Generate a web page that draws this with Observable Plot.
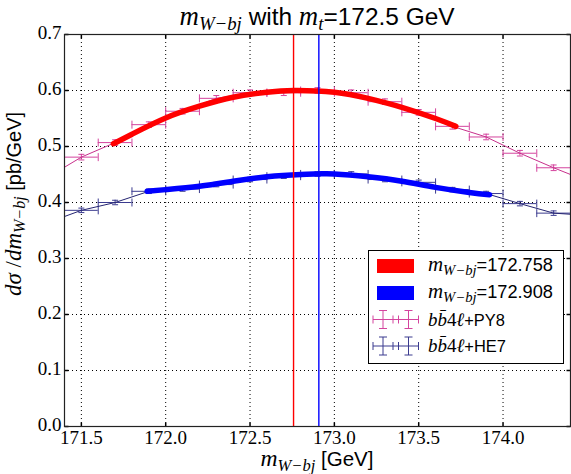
<!DOCTYPE html>
<html><head><meta charset="utf-8">
<script src="https://cdn.jsdelivr.net/npm/d3@7"></script>
<script src="https://cdn.jsdelivr.net/npm/@observablehq/plot@0.6"></script>
<style>
html,body{margin:0;padding:0;background:#fff;}
#chart{position:relative;width:571px;height:474px;}
#chart svg text{font-family:"Liberation Serif","Times New Roman","DejaVu Serif",serif;}
</style></head><body><div id="chart"></div>
<script>
// ---- data ----
const xDomain = [171.4, 174.4];
const yDomain = [0, 0.7];
const xTicks = [171.5, 172.0, 172.5, 173.0, 173.5, 174.0];
const yTicks = [0.0, 0.1, 0.2, 0.3, 0.4, 0.5, 0.6, 0.7];
const binLow  = [171.4,171.6,171.8,172.0,172.2,172.4,172.6,172.8,173.0,173.2,173.4,173.6,173.8,174.0,174.2];
const binHigh = [171.6,171.8,172.0,172.2,172.4,172.6,172.8,173.0,173.2,173.4,173.6,173.8,174.0,174.2,174.4];
const py8Values = [0.481,0.507,0.539,0.563,0.586,0.596,0.596,0.600,0.596,0.580,0.561,0.536,0.517,0.488,0.462];
const py8Errors = [0.005,0.005,0.005,0.005,0.005,0.005,0.005,0.005,0.005,0.005,0.005,0.005,0.005,0.005,0.005];
const he7Values = [0.386,0.400,0.420,0.424,0.432,0.441,0.447,0.451,0.451,0.441,0.436,0.423,0.416,0.398,0.381];
const he7Errors = [0.004,0.004,0.004,0.004,0.004,0.004,0.004,0.004,0.004,0.004,0.004,0.004,0.004,0.004,0.004];
// neighbouring bins just outside the frame (the thin lines run off the edges)
const outerX = [171.3, 174.5];
const py8Outer = [0.445, 0.438];
const he7Outer = [0.364, 0.377];
// fitted curves (thick)
const redFitX  = [171.69,171.8,172.0,172.2,172.4,172.6,172.76,173.0,173.2,173.4,173.6,173.72];
const redFitY  = [0.505,0.522,0.551,0.572,0.588,0.597,0.600,0.597,0.586,0.570,0.550,0.536];
const blueFitX = [171.89,172.0,172.2,172.4,172.6,172.8,172.91,173.0,173.2,173.4,173.6,173.8,173.92];
const blueFitY = [0.420,0.423,0.429,0.438,0.446,0.450,0.451,0.451,0.446,0.438,0.427,0.418,0.414];
const fitPeaks = [172.758, 172.908];
const legendValues = ["172.758", "172.908"];
const legendSamples = ["PY8", "HE7"];

// ---- colours / fonts ----
const RED = "#ff0000", BLUE = "#0000ff", PINK = "#d4449e", PINKLINE = "#c8308c", NAVY = "#3b3b8f", NAVYLINE = "#242472";
const SERIF = "'Liberation Serif', 'Times New Roman', 'DejaVu Serif', serif";
const SANS = "'Liberation Sans', Arial, 'DejaVu Sans', sans-serif";

const mkBins = (vals, errs) => binLow.map((lo, i) => ({lo, hi: binHigh[i], c: (lo + binHigh[i]) / 2, v: vals[i], e: errs[i]}));
const py8Bins = mkBins(py8Values, py8Errors);
const he7Bins = mkBins(he7Values, he7Errors);
const mkLine = (vals, outer) => [{x: outerX[0], y: outer[0]}, ...binLow.map((lo, i) => ({x: (lo + binHigh[i]) / 2, y: vals[i]})), {x: outerX[1], y: outer[1]}];
const redFit = redFitX.map((x, i) => ({x, y: redFitY[i]}));
const blueFit = blueFitX.map((x, i) => ({x, y: blueFitY[i]}));

const sym = (f) => ({draw(ctx, size) { const r = Math.sqrt(size / Math.PI); f(ctx, r); }});
const vCap = sym((c, r) => { c.moveTo(0, -r); c.lineTo(0, r); });
const hCap = sym((c, r) => { c.moveTo(-r, 0); c.lineTo(r, 0); });
const upTick = sym((c, r) => { c.moveTo(0, 0); c.lineTo(0, -r); });
const downTick = sym((c, r) => { c.moveTo(0, 0); c.lineTo(0, r); });
const rightTick = sym((c, r) => { c.moveTo(0, 0); c.lineTo(r, 0); });
const leftTick = sym((c, r) => { c.moveTo(0, 0); c.lineTo(-r, 0); });

function errMarks(data, color) {
  return [
    Plot.ruleY(data, {x1: "lo", x2: "hi", y: "v", stroke: color, strokeWidth: 1}),
    Plot.ruleX(data, {x: "c", y1: d => d.v - d.e, y2: d => d.v + d.e, stroke: color, strokeWidth: 1}),
    Plot.dot(data, {x: "lo", y: "v", symbol: vCap, r: 4, stroke: color, fill: "none", strokeWidth: 1}),
    Plot.dot(data, {x: "hi", y: "v", symbol: vCap, r: 4, stroke: color, fill: "none", strokeWidth: 1}),
    Plot.dot(data, {x: "c", y: d => d.v + d.e, symbol: hCap, r: 3, stroke: color, fill: "none", strokeWidth: 1}),
    Plot.dot(data, {x: "c", y: d => d.v - d.e, symbol: hCap, r: 3, stroke: color, fill: "none", strokeWidth: 1})
  ];
}

const dots = {stroke: "#000", strokeWidth: 1, strokeDasharray: "1,3", strokeOpacity: 1};
const plot = Plot.plot({
  width: 571, height: 474,
  marginLeft: 64, marginRight: 1, marginTop: 34, marginBottom: 48,
  style: {fontFamily: SERIF, fontSize: "19px", color: "#000", background: "#fff"},
  x: {domain: xDomain},
  y: {domain: yDomain},
  marks: [
    Plot.gridX(xTicks, dots),
    Plot.gridY(yTicks.slice(1, -1), dots),
    ...errMarks(py8Bins, PINK),
    ...errMarks(he7Bins, NAVY),
    Plot.line(mkLine(py8Values, py8Outer), {x: "x", y: "y", stroke: PINKLINE, strokeWidth: 1, clip: true}),
    Plot.line(mkLine(he7Values, he7Outer), {x: "x", y: "y", stroke: NAVYLINE, strokeWidth: 1, clip: true}),
    Plot.line(redFit, {x: "x", y: "y", stroke: RED, strokeWidth: 5.5, curve: "natural"}),
    Plot.line(blueFit, {x: "x", y: "y", stroke: BLUE, strokeWidth: 5.5, curve: "natural"}),
    Plot.ruleX([fitPeaks[0]], {stroke: RED, strokeWidth: 1.4}),
    Plot.ruleX([fitPeaks[1]], {stroke: BLUE, strokeWidth: 1.4}),
    Plot.dot(xTicks, {x: d => d, frameAnchor: "bottom", symbol: upTick, r: 4, stroke: "#000", fill: "none"}),
    Plot.dot(xTicks, {x: d => d, frameAnchor: "top", symbol: downTick, r: 4, stroke: "#000", fill: "none"}),
    Plot.dot(yTicks, {y: d => d, frameAnchor: "left", symbol: rightTick, r: 4, stroke: "#000", fill: "none"}),
    Plot.dot(yTicks, {y: d => d, frameAnchor: "right", symbol: leftTick, r: 4, stroke: "#000", fill: "none"}),
    Plot.axisX(xTicks, {tickSize: 0, tickPadding: 4, tickFormat: d3.format(".1f"), label: null, fontSize: 19, fontFamily: SERIF}),
    Plot.axisY(yTicks, {tickSize: 0, tickPadding: 3, tickFormat: d3.format(".1f"), label: null, fontSize: 19, fontFamily: SERIF, dy: -2}),
    Plot.frame({stroke: "#222", strokeWidth: 1.2})
  ]
});
document.getElementById("chart").appendChild(plot);
const svg = d3.select(plot);
svg.selectAll("g[aria-label$='tick label'], g[aria-label$='tick label'] text")
  .style("font-family", SERIF).style("font-size", "19px").style("font-variant", "normal");

// ---- text with sub/superscripts: title, axis labels, legend ----
function build(g, parts, size, anchor) {
  const t = g.append("text").attr("fill", "#000").attr("text-anchor", anchor || "start");
  let shift = 0;
  for (const p of parts) {
    const s = t.append("tspan").text(p.t)
      .style("font-family", p.sans ? SANS : SERIF)
      .style("font-style", p.it ? "italic" : "normal")
      .style("font-size", ((p.sub ? 0.7 : 1) * (p.scale || 1) * size) + "px");
    const want = p.sub ? 0.22 * size : 0;
    if (want !== shift) { s.attr("dy", want - shift); shift = want; }
  }
  return t;
}
// build, then rescale so the text spans the width
function rich(g, parts, size, anchor, targetWidth) {
  let t = build(g, parts, size, anchor);
  if (targetWidth) {
    const w = t.node().getBBox().width;
    t.remove();
    t = build(g, parts, size * targetWidth / w, anchor);
  }
  return t;
}
const fx = plot.scale("x"), fy = plot.scale("y");
const cx = (fx.range[0] + fx.range[1]) / 2;
const plotTop = fy.range[1], plotBottom = fy.range[0], plotRight = fx.range[1];

// title
rich(svg, [
  {t: "m", it: true, scale: 1.1}, {t: "W\u2212bj", it: true, sub: true, scale: 1.1},
  {t: " with ", sans: true}, {t: "m", it: true, scale: 1.1}, {t: "t", it: true, sub: true, scale: 1.1},
  {t: "=172.5 GeV", sans: true}
], 20, "middle", 276).attr("x", cx).attr("y", plotTop - 9);

// x label
rich(svg, [
  {t: "m", it: true, scale: 1.15}, {t: "W\u2212bj", it: true, sub: true, scale: 1.15},
  {t: " [GeV]", sans: true}
], 19, "middle", 113).attr("x", cx).attr("y", plotBottom + 40);

// y label
rich(svg, [
  {t: "d\u03C3", it: true, scale: 1.15}, {t: " /", scale: 1.15}, {t: "dm", it: true, scale: 1.15},
  {t: "W\u2212bj", it: true, sub: true, scale: 1.15}, {t: " [pb/GeV]", sans: true}
], 17, "middle", 184).attr("transform", `translate(21,204) rotate(-90)`);

// legend
const lg = svg.append("g");
const lx = plotRight - 202, ly = plotTop + 216, lw = 195, lh = 113;
lg.append("rect").attr("x", lx + 0.5).attr("y", ly + 0.5).attr("width", lw).attr("height", lh)
  .attr("fill", "#fff").attr("stroke", "#000").attr("stroke-width", 1);
const rowY = [ly + 16, ly + 43, ly + 69.5, ly + 96];
[RED, BLUE].forEach((c, i) => {
  lg.append("rect").attr("x", lx + 9).attr("y", rowY[i] - 7).attr("width", 37).attr("height", 14).attr("fill", c);
  rich(lg, [{t: "m", it: true, scale: 1.15}, {t: "W\u2212bj", it: true, sub: true, scale: 1.15}, {t: "=" + legendValues[i], sans: true}], 17.5, "start", 125)
    .attr("x", lx + 60).attr("y", rowY[i] + 5);
});
[PINK, NAVY].forEach((c, i) => {
  const y = rowY[i + 2];
  const g = lg.append("g").attr("stroke", c).attr("stroke-width", 1).attr("fill", "none");
  const centers = [lx + 15, lx + 40.5];
  for (const x0 of centers) {
    g.append("path").attr("d", `M${x0 - 10},${y}H${x0 + 10}M${x0 - 10},${y - 4}V${y + 4}M${x0 + 10},${y - 4}V${y + 4}M${x0},${y - 9}V${y + 9}M${x0 - 4},${y - 9}H${x0 + 4}M${x0 - 4},${y + 9}H${x0 + 4}`);
  }
  g.append("path").attr("d", `M${centers[0] + 10},${y}H${centers[1] - 10}`);
  rich(lg, [{t: "b", it: true, scale: 1.15}, {t: "b\u0304", it: true, scale: 1.15}, {t: "4", scale: 1.15}, {t: "\u2113", it: true, scale: 1.15}, {t: "+" + legendSamples[i], sans: true}], 17.5, "start", i === 0 ? 77 : 78)
    .attr("x", lx + 60).attr("y", y + 6);
});
</script></body></html>
